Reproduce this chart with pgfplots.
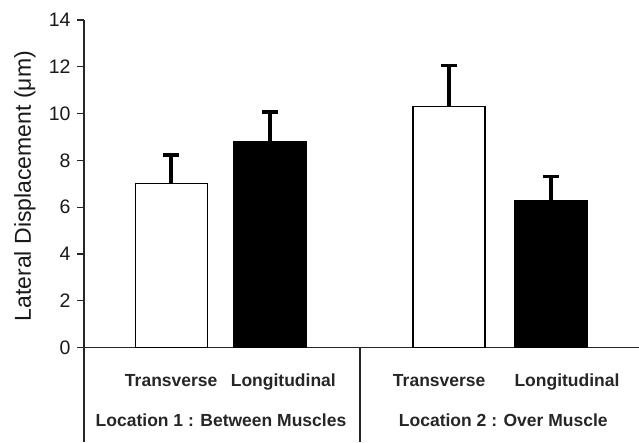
\documentclass[border=0pt]{standalone}
\usepackage{fontspec}
\setmainfont{Liberation Sans}
\usepackage{pgfplots}
\pgfplotsset{compat=1.18}
\begin{document}
\begin{tikzpicture}[x=1pt,y=1pt]
\useasboundingbox (0,0) rectangle (639,442);
\begin{axis}[
  at={(84pt,94.3pt)}, anchor=south west,
  scale only axis, width=555pt, height=327.7pt,
  xmin=0, xmax=555, ymin=0, ymax=14,
  axis x line=bottom, axis y line=left,
  axis line style={-, line width=1.2pt, black!85},
  xtick=\empty,
  ytick={0,2,...,14},
  tick style={line width=1.2pt, black!85},
  tick align=outside, major tick length=7pt,
  y tick label style={font=\fontsize{19.5}{21}\selectfont, black!90, xshift=-3pt},
  /pgf/number format/assume math mode=true,
  ylabel={Lateral Displacement (μm)},
  ylabel style={font=\fontsize{23}{26}\selectfont, black!90, at={(axis description cs:-0.1063,0.493)}, anchor=center},
  clip=false,
  ybar, bar width=72pt, bar shift=0pt,
]
\addplot[ybar, bar shift=0pt, fill=white, draw=black, line width=1.2pt,
  error bars/.cd, y dir=plus, y explicit,
  error bar style={line width=4pt, black},
  error mark options={rotate=90, line width=3.5pt, mark size=8pt, black}]
  coordinates {(87.3,7.02) +- (0,1.21) (365,10.3) +- (0,1.75)};
\addplot[ybar, bar shift=0pt, fill=black, draw=black, line width=1.2pt,
  error bars/.cd, y dir=plus, y explicit,
  error bar style={line width=4pt, black},
  error mark options={rotate=90, line width=3.5pt, mark size=8pt, black}]
  coordinates {(186,8.79) +- (0,1.29) (467,6.28) +- (0,1.03)};
\draw[line width=1.2pt, black!85] (axis cs:0,0) -- ++(0,-94.3pt);
\draw[line width=1.2pt, black!85] (axis cs:276,0) -- ++(0,-94.3pt);
\begin{scope}[every node/.style={font=\bfseries\fontsize{17.5}{20}\selectfont, text=black!85, anchor=base, inner sep=0pt}]
\node at (axis cs:87.2,0) [yshift=-39pt] {Transverse};
\node at (axis cs:199.3,0) [yshift=-39pt] {Longitudinal};
\node at (axis cs:355.2,0) [yshift=-39pt] {Transverse};
\node at (axis cs:483,0) [yshift=-39pt] {Longitudinal};
\node at (axis cs:137,0) [yshift=-78.5pt] {Location 1 : Between Muscles};
\node at (axis cs:419.3,0) [yshift=-78.5pt] {Location 2 : Over Muscle};
\end{scope}
\end{axis}
\end{tikzpicture}
\end{document}
